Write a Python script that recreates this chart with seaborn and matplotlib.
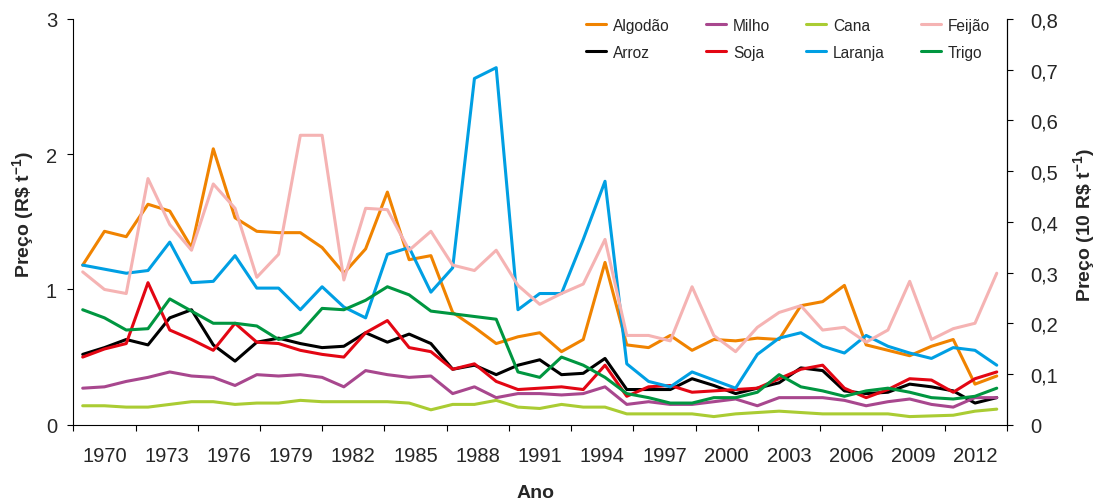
import matplotlib
matplotlib.use("Agg")

import matplotlib.pyplot as plt
import numpy as np
import pandas as pd
import seaborn as sns

# ---- data (R$ t-1, left-axis units) ----
ANOS = list(range(1970, 2013))

ALGODAO = [1.18, 1.43, 1.39, 1.63, 1.58, 1.31, 2.04, 1.53, 1.43, 1.42,
           1.42, 1.31, 1.12, 1.30, 1.72, 1.22, 1.25, 0.83, 0.72, 0.60,
           0.65, 0.68, 0.54, 0.63, 1.20, 0.59, 0.57, 0.66, 0.55, 0.63,
           0.62, 0.64, 0.63, 0.88, 0.91, 1.03, 0.59, 0.55, 0.51, 0.58,
           0.63, 0.30, 0.36]
ARROZ = [0.52, 0.57, 0.63, 0.59, 0.79, 0.85, 0.59, 0.47, 0.61, 0.64,
         0.60, 0.57, 0.58, 0.68, 0.61, 0.67, 0.60, 0.41, 0.44, 0.37,
         0.44, 0.48, 0.37, 0.38, 0.49, 0.26, 0.26, 0.26, 0.34, 0.29,
         0.23, 0.27, 0.31, 0.42, 0.40, 0.25, 0.23, 0.24, 0.30, 0.28,
         0.25, 0.16, 0.20]
MILHO = [0.27, 0.28, 0.32, 0.35, 0.39, 0.36, 0.35, 0.29, 0.37, 0.36,
         0.37, 0.35, 0.28, 0.40, 0.37, 0.35, 0.36, 0.23, 0.28, 0.20,
         0.23, 0.23, 0.22, 0.23, 0.28, 0.15, 0.17, 0.15, 0.15, 0.17,
         0.19, 0.14, 0.20, 0.20, 0.20, 0.18, 0.14, 0.17, 0.19, 0.15,
         0.13, 0.20, 0.20]
SOJA = [0.50, 0.56, 0.60, 1.05, 0.70, 0.63, 0.55, 0.75, 0.61, 0.60,
        0.55, 0.52, 0.50, 0.68, 0.77, 0.57, 0.54, 0.41, 0.45, 0.32,
        0.26, 0.27, 0.28, 0.26, 0.44, 0.21, 0.28, 0.29, 0.24, 0.25,
        0.26, 0.27, 0.34, 0.41, 0.44, 0.27, 0.20, 0.26, 0.34, 0.33,
        0.24, 0.34, 0.39]
CANA = [0.14, 0.14, 0.13, 0.13, 0.15, 0.17, 0.17, 0.15, 0.16, 0.16,
        0.18, 0.17, 0.17, 0.17, 0.17, 0.16, 0.11, 0.15, 0.15, 0.18,
        0.13, 0.12, 0.15, 0.13, 0.13, 0.08, 0.08, 0.08, 0.08, 0.06,
        0.08, 0.09, 0.10, 0.09, 0.08, 0.08, 0.08, 0.08, 0.06, 0.065,
        0.07, 0.10, 0.115]
LARANJA = [1.18, 1.15, 1.12, 1.14, 1.35, 1.05, 1.06, 1.25, 1.01, 1.01,
           0.85, 1.02, 0.87, 0.79, 1.26, 1.31, 0.98, 1.16, 2.56, 2.64,
           0.85, 0.97, 0.97, 1.37, 1.80, 0.45, 0.32, 0.28, 0.39, 0.33,
           0.27, 0.52, 0.64, 0.68, 0.58, 0.53, 0.66, 0.58, 0.53, 0.49,
           0.57, 0.55, 0.44]
FEIJAO = [1.13, 1.00, 0.97, 1.82, 1.48, 1.29, 1.78, 1.60, 1.09, 1.26,
          2.14, 2.14, 1.07, 1.60, 1.59, 1.29, 1.43, 1.18, 1.14, 1.29,
          1.03, 0.89, 0.97, 1.04, 1.37, 0.66, 0.66, 0.62, 1.02, 0.66,
          0.54, 0.72, 0.83, 0.88, 0.70, 0.72, 0.61, 0.70, 1.06, 0.63,
          0.71, 0.75, 1.12]
TRIGO = [0.85, 0.79, 0.70, 0.71, 0.93, 0.84, 0.75, 0.75, 0.73, 0.63,
         0.68, 0.86, 0.85, 0.92, 1.02, 0.96, 0.84, 0.82, 0.80, 0.78,
         0.39, 0.35, 0.50, 0.44, 0.35, 0.23, 0.20, 0.16, 0.16, 0.20,
         0.20, 0.24, 0.37, 0.28, 0.25, 0.21, 0.25, 0.27, 0.24, 0.20,
         0.19, 0.21, 0.27]

CULTURAS = ["Algodão", "Arroz", "Milho", "Soja", "Cana", "Laranja", "Feijão", "Trigo"]
SERIES = [ALGODAO, ARROZ, MILHO, SOJA, CANA, LARANJA, FEIJAO, TRIGO]
CORES = ["#F08300", "#000000", "#A8478E", "#E30613", "#AACC33",
         "#009FE3", "#F5B3B3", "#009640"]

LEFT_TICKS = [0, 1, 2, 3]
RIGHT_TICKS = [0, 0.1, 0.2, 0.3, 0.4, 0.5, 0.6, 0.7, 0.8]
X_LABELS = list(range(1970, 2013, 3))

sns.set_style("ticks")
plt.rcParams["font.family"] = ["Liberation Sans", "DejaVu Sans"]
plt.rcParams["mathtext.fontset"] = "custom"
plt.rcParams["mathtext.rm"] = "Liberation Sans:bold"
plt.rcParams["mathtext.it"] = "Liberation Sans:bold"
plt.rcParams["mathtext.bf"] = "Liberation Sans:bold"

df = pd.DataFrame(
    [(ano, cult, v) for cult, vals in zip(CULTURAS, SERIES) for ano, v in zip(ANOS, vals)],
    columns=["Ano", "Cultura", "Preco"],
)

fig = plt.figure(figsize=(10.98, 5.02), dpi=100)
ax = fig.add_axes([0.0668, 0.152, 0.8501, 0.8082])

sns.lineplot(data=df, x="Ano", y="Preco", hue="Cultura", hue_order=CULTURAS,
             palette=dict(zip(CULTURAS, CORES)), linewidth=2.2, ax=ax)

# x axis: 15 equal intervals, year label centred in each
xlo, xhi = 1969.57, 2012.46
ax.set_xlim(xlo, xhi)
bounds = np.linspace(xlo, xhi, len(X_LABELS) + 1)
mids = (bounds[:-1] + bounds[1:]) / 2
ax.set_xticks(bounds)
ax.set_xticklabels([])
ax.set_xticks(mids, minor=True)
ax.set_xticklabels([str(a) for a in X_LABELS], minor=True)
ax.tick_params(axis="x", which="major", direction="out", length=4.3, width=0.8, color="black")
ax.tick_params(axis="x", which="minor", length=0, pad=15, labelsize=14.5)

ax.set_ylim(0, 3)
ax.set_yticks(LEFT_TICKS)
ax.set_yticklabels([str(t) for t in LEFT_TICKS])
ax.tick_params(axis="y", direction="out", length=4.3, width=0.8, pad=7.5,
               labelsize=14.5, color="black")

ax2 = ax.twinx()
ax2.set_ylim(0, 0.8)
ax2.set_yticks(RIGHT_TICKS)
ax2.set_yticklabels(["0" if t == 0 else f"{t:.1f}".replace(".", ",") for t in RIGHT_TICKS])
ax2.tick_params(axis="y", direction="out", length=4.3, width=0.8, pad=12.5,
                labelsize=14.5, color="black")

for a in (ax, ax2):
    a.spines["top"].set_visible(False)
    for s in ("left", "right", "bottom"):
        a.spines[s].set_linewidth(0.8)
        a.spines[s].set_color("black")
ax2.spines["left"].set_visible(False)
ax2.spines["bottom"].set_visible(False)

ax.set_xlabel("Ano", fontsize=14, fontweight="bold")
ax.xaxis.set_label_coords(0.495, -0.145)
ax.set_ylabel(r"Preço (R\$ t$^{-1}$)", fontsize=14, fontweight="bold")
ax.yaxis.set_label_coords(-0.04, 0.52)
ax2.set_ylabel(r"Preço (10 R\$ t$^{-1}$)", fontsize=14, fontweight="bold")
ax2.yaxis.set_label_coords(1.069, 0.495)

handles, labels = ax.get_legend_handles_labels()
ax.legend(handles, labels, ncol=4, frameon=False, loc="upper left",
          bbox_to_anchor=(0.549, 1.003), borderaxespad=0, borderpad=0,
          handlelength=1.3, handletextpad=0.45, columnspacing=2.3,
          labelspacing=0.78, fontsize=11.2)

fig.savefig("out.png", dpi=100)
plt.close(fig)
